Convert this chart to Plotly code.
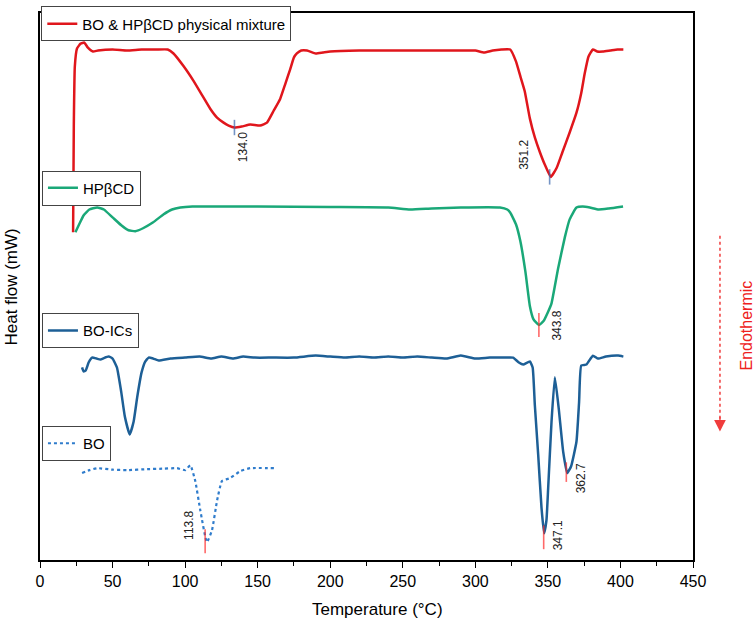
import plotly.graph_objects as go

# ---------------- data (temperature °C, heat flow in arbitrary offset mW units) ----------------
mix_T = [22.8, 23.3, 24.0, 25.5, 28.0, 30.5, 33.0, 36.5, 40, 50, 60, 70, 80, 88, 92, 99, 105.9, 112,
         117.3, 122, 126.5, 130, 134, 139, 144.9, 151.7, 156.4, 161, 165.5, 169, 172.4, 175, 177, 180,
         184, 190, 195, 200, 220, 240, 260, 280, 300, 306, 312, 318, 324, 328, 331, 334, 337.6, 341,
         344.5, 348, 352, 356, 360, 365, 369.7, 373, 375.4, 378, 381, 384, 388, 393, 398, 402]
mix_Y = [33.2, 44.0, 50.0, 51.8, 52.3, 52.4, 51.9, 51.5, 51.6, 51.7, 51.6, 51.7, 51.7, 51.7, 51.3, 50.0,
         48.5, 47.0, 45.7, 44.8, 44.3, 44.0, 43.8, 43.9, 44.1, 44.0, 44.3, 45.5, 46.7, 48.2, 49.7, 50.9,
         51.3, 51.6, 51.6, 51.3, 51.4, 51.5, 51.6, 51.6, 51.6, 51.6, 51.6, 51.4, 51.6, 51.7, 51.7, 50.5,
         49.0, 47.5, 44.7, 42.8, 41.3, 40.0, 38.8, 39.7, 41.3, 43.3, 45.3, 47.3, 49.3, 51.0, 51.7, 51.5,
         51.5, 51.6, 51.7, 51.7]

hp_T = [24.4, 27, 30, 34, 39.4, 44, 50, 56, 61, 65.7, 71, 78, 85, 91, 96.7, 105, 150, 200, 240, 255,
        270, 290, 317, 322, 324, 328, 331, 334.5, 337.6, 340, 343.8, 347, 350, 352.5, 357, 361.7, 365,
        369.7, 374, 378.9, 385, 392, 401.8]
hp_Y = [33.2, 34.0, 34.9, 35.5, 35.7, 35.5, 34.7, 33.9, 33.4, 33.3, 33.6, 34.2, 35.0, 35.5, 35.7, 35.8,
        35.8, 35.75, 35.7, 35.5, 35.6, 35.7, 35.7, 35.5, 35.2, 34.0, 32.3, 29.2, 25.7, 24.4, 23.8, 24.2,
        25.1, 26.0, 29.5, 32.7, 34.5, 35.7, 35.8, 35.7, 35.5, 35.6, 35.8]

ic_T = [29, 30, 31.5, 33.5, 35.9, 39, 41.6, 44, 47.3, 50, 53, 56, 58.5, 61.8, 64.5, 67, 70, 72.5, 74.9,
        78, 81.8, 90, 100, 110, 118, 125, 133, 140, 148, 160, 175, 190, 200, 210, 220, 230, 240, 250,
        260, 270, 280, 290, 300, 310, 320, 326, 330, 333, 337.6, 339.5, 341, 343.3, 345.6, 347.4, 349,
        350.2, 352.5, 354.8, 357.5, 360.5, 363.3, 366, 369.7, 371.5, 373, 376.6, 381, 384.6, 390,
        398.4, 402]
ic_Y = [19.5, 19.1, 19.2, 20.0, 20.5, 20.4, 20.3, 20.45, 20.6, 20.4, 19.5, 17.0, 14.5, 12.7, 14.0, 16.5,
        19.0, 20.1, 20.5, 20.4, 20.2, 20.4, 20.5, 20.6, 20.4, 20.6, 20.4, 20.6, 20.5, 20.5, 20.5, 20.7,
        20.6, 20.5, 20.6, 20.5, 20.6, 20.5, 20.6, 20.5, 20.4, 20.7, 20.4, 20.5, 20.5, 20.5, 20.0, 19.8,
        20.1, 19.5, 15.7, 10.7, 5.3, 2.7, 4.0, 7.3, 14.0, 18.5, 15.3, 11.0, 8.8, 9.5, 12.0, 16.0, 19.7,
        19.8, 20.7, 20.4, 20.6, 20.7, 20.6]

bo_T = [29, 34, 39.4, 50, 60, 73.8, 85, 94.4, 100.1, 103.6, 107, 110.5, 115, 118.5, 122, 125.4, 131.1,
        138, 144.9, 162]
bo_Y = [8.8, 9.1, 9.3, 9.15, 9.1, 9.2, 9.25, 9.3, 9.1, 9.6, 8.0, 5.0, 1.8, 3.0, 6.0, 8.0, 8.3, 9.0,
        9.3, 9.3]

peak_T = [134.0, 351.2, 343.8, 347.1, 362.7, 113.8]
peak_Y = [43.8, 38.8, 23.8, 2.3, 8.9, 1.9]
peak_labels = ["134.0", "351.2", "343.8", "347.1", "362.7", "113.8"]
label_T = [139.8, 334.0, 356.0, 357.0, 373.0, 103.0]
label_Y = [41.8, 41.0, 23.7, 2.5, 8.3, 3.5]

x_ticks = [0, 50, 100, 150, 200, 250, 300, 350, 400, 450]

RED = "#e0161c"
GREEN = "#1aa878"
DBLUE = "#1d5f96"
LBLUE = "#2f7ccc"
TICKBLUE = "#3a67ad"
TICKRED = "#ff2b2b"
FONT = "Liberation Sans, Arial, sans-serif"

fig = go.Figure()
fig.add_trace(go.Scatter(x=mix_T, y=mix_Y, mode="lines", name="BO & HPβCD physical mixture",
                         line=dict(color=RED, width=2.5, shape="spline", smoothing=0.4),
                         legend="legend"))
fig.add_trace(go.Scatter(x=hp_T, y=hp_Y, mode="lines", name="HPβCD",
                         line=dict(color=GREEN, width=2.5, shape="spline", smoothing=0.4),
                         legend="legend2"))
fig.add_trace(go.Scatter(x=ic_T, y=ic_Y, mode="lines", name="BO-ICs",
                         line=dict(color=DBLUE, width=2.5, shape="spline", smoothing=0.4),
                         legend="legend3"))
fig.add_trace(go.Scatter(x=bo_T, y=bo_Y, mode="lines", name="BO",
                         line=dict(color=LBLUE, width=2.2, dash="dot", shape="spline", smoothing=0.4),
                         legend="legend4"))

tick_colors = [TICKBLUE, TICKBLUE, TICKRED, TICKRED, TICKRED, TICKRED]
tick_sizes = [11, 11, 17, 17, 14, 17]
fig.add_trace(go.Scatter(x=peak_T, y=peak_Y, mode="markers", showlegend=False, hoverinfo="skip",
                         marker=dict(symbol="line-ns", size=tick_sizes,
                                     line=dict(color=tick_colors, width=1.6))))

for t, y, s in zip(label_T, label_Y, peak_labels):
    fig.add_annotation(x=t, y=y, text=s, showarrow=False, textangle=-90,
                       font=dict(family=FONT, size=12, color="#222"))

# y axis title, x axis title
fig.add_annotation(xref="paper", yref="paper", x=-0.043, y=0.5, text="Heat flow (mW)",
                   xanchor="center", yanchor="middle",
                   showarrow=False, textangle=-90, font=dict(family=FONT, size=17, color="black"))
fig.add_annotation(xref="paper", yref="paper", x=0.517, y=-0.09, text="Temperature (°C)",
                   xanchor="center", yanchor="middle",
                   showarrow=False, font=dict(family=FONT, size=17, color="black"))

# Endothermic indicator
fig.add_shape(type="line", xref="paper", yref="paper", x0=1.0413, x1=1.0413, y0=0.5926, y1=0.25,
              line=dict(color="#f03c3c", width=1.5, dash="dot"))
fig.add_annotation(xref="paper", yref="paper", x=1.0413, y=0.2347, ax=0, ay=-16, text="",
                   showarrow=True, arrowhead=2, arrowsize=1.8, arrowwidth=1.3, arrowcolor="#f03c3c")
fig.add_annotation(xref="paper", yref="paper", x=1.082, y=0.4278, text="Endothermic",
                   xanchor="center", yanchor="middle",
                   showarrow=False, textangle=-90, font=dict(family=FONT, size=16, color="#ee2020"))

legend_common = dict(bgcolor="white", bordercolor="#444", borderwidth=1, xanchor="left",
                     yanchor="top", font=dict(family=FONT, size=15, color="black"),
                     itemwidth=30, tracegroupgap=0)
fig.update_layout(
    width=756, height=624,
    margin=dict(l=40, r=63, t=6, b=64),
    paper_bgcolor="white", plot_bgcolor="white",
    font=dict(family=FONT, color="black"),
    legend=dict(x=0.002, y=1.012, **legend_common),
    legend2=dict(x=0.003, y=0.712, **legend_common),
    legend3=dict(x=0.003, y=0.451, **legend_common),
    legend4=dict(x=0.003, y=0.245, **legend_common),
    xaxis=dict(range=[0, 450], tickvals=x_ticks, ticks="outside", ticklen=6, tickwidth=1.2,
               tickcolor="black", showline=True, linecolor="black", linewidth=2, mirror=True,
               showgrid=False, zeroline=False, tickfont=dict(family=FONT, size=16, color="black"),
               minor=dict(dtick=25, ticks="outside", ticklen=4, tickcolor="black", tickwidth=1.2)),
    yaxis=dict(range=[0, 55.4], showticklabels=False, ticks="", showline=True, linecolor="black",
               linewidth=2, mirror=True, showgrid=False, zeroline=False),
)

fig.write_html("out.html", config={"displayModeBar": False},
               post_script="document.body.style.margin='0';document.body.style.overflow='hidden';")
